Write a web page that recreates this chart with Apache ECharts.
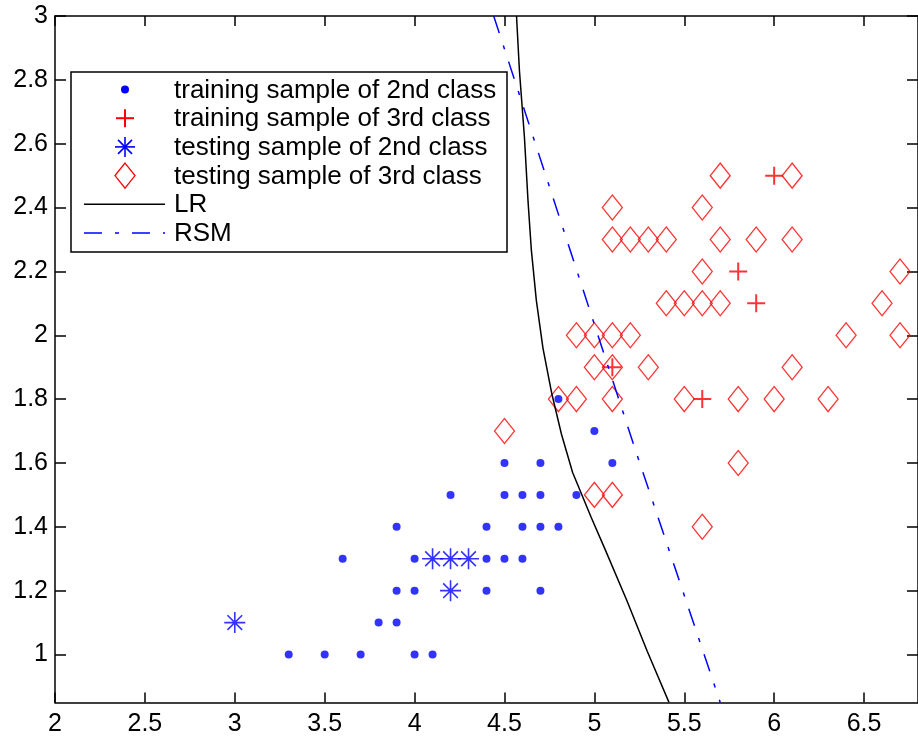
<!DOCTYPE html>
<html>
<head>
<meta charset="utf-8">
<script src="https://cdn.jsdelivr.net/npm/echarts@6/dist/echarts.min.js"></script>
<style>
  html, body { margin: 0; padding: 0; background: #fff; }
  #chart { width: 918px; height: 742px; }
</style>
</head>
<body>
<div id="chart"></div>
<script>
// training samples of 2nd class (dots)
const train2X = [3.3, 3.5, 3.7, 4.0, 4.1, 3.8, 3.9, 3.9, 4.0, 4.4, 4.7, 3.6, 4.0, 4.4, 4.5, 4.6,
  3.9, 4.4, 4.6, 4.7, 4.8, 4.2, 4.5, 4.6, 4.7, 4.9, 4.5, 4.7, 5.1, 5.0, 4.8]
const train2Y = [1.0, 1.0, 1.0, 1.0, 1.0, 1.1, 1.1, 1.2, 1.2, 1.2, 1.2, 1.3, 1.3, 1.3, 1.3, 1.3,
  1.4, 1.4, 1.4, 1.4, 1.4, 1.5, 1.5, 1.5, 1.5, 1.5, 1.6, 1.6, 1.6, 1.7, 1.8]

// training samples of 3rd class (plus)
const train3X = [6.0, 5.8, 5.9, 5.1, 5.6]
const train3Y = [2.5, 2.2, 2.1, 1.9, 1.8]

// testing samples of 2nd class (asterisk)
const test2X = [3.0, 4.2, 4.1, 4.2, 4.3]
const test2Y = [1.1, 1.2, 1.3, 1.3, 1.3]

// testing samples of 3rd class (diamond)
const test3X = [5.7, 6.1, 5.1, 5.6, 5.1, 5.2, 5.3, 5.4, 5.7, 5.9, 6.1, 5.6, 6.7,
  5.4, 5.5, 5.6, 5.7, 6.6, 4.9, 5.0, 5.1, 5.2, 6.4, 6.7, 5.0, 5.1, 5.3, 6.1,
  4.8, 4.9, 5.1, 5.5, 5.8, 6.0, 6.3, 4.5, 5.8, 5.0, 5.1, 5.6]
const test3Y = [2.5, 2.5, 2.4, 2.4, 2.3, 2.3, 2.3, 2.3, 2.3, 2.3, 2.3, 2.2, 2.2,
  2.1, 2.1, 2.1, 2.1, 2.1, 2.0, 2.0, 2.0, 2.0, 2.0, 2.0, 1.9, 1.9, 1.9, 1.9,
  1.8, 1.8, 1.8, 1.8, 1.8, 1.8, 1.8, 1.7, 1.6, 1.5, 1.5, 1.4]

// decision boundaries
const lrX = [4.567, 4.583, 4.611, 4.631, 4.649, 4.677, 4.714, 4.762, 4.817, 4.879, 4.982, 5.059, 5.18, 5.294, 5.415]
const lrY = [3.0, 2.83, 2.62, 2.42, 2.27, 2.11, 1.96, 1.82, 1.69, 1.57, 1.43, 1.33, 1.17, 1.01, 0.85]
const rsmX = [4.44, 5.228, 5.70]
const rsmY = [3.0, 1.641, 0.85]

const xTicks = [2, 2.5, 3, 3.5, 4, 4.5, 5, 5.5, 6, 6.5]
const yTicks = [1, 1.2, 1.4, 1.6, 1.8, 2, 2.2, 2.4, 2.6, 2.8, 3]

const legendLabels = [
  'training sample of 2nd class',
  'training sample of 3rd class',
  'testing sample of 2nd class',
  'testing sample of 3rd class',
  'LR',
  'RSM'
]

const FONT = '"Liberation Sans", Arial, sans-serif'
const BLUE = '#0000ff'
const RED = '#ff0000'
const PLUS = 'path://M0,9L18,9M9,0L9,18'
const STAR = 'path://M0,10L20,10M10,0L10,20M3,3L17,17M17,3L3,17'
const RSM_DASH = [18, 13, 4, 13]

function pairs (xs, ys) {
  return xs.map((x, i) => [x, ys[i]])
}

function makeAxis (dim, position, showLabel) {
  const ticks = dim === 'x' ? xTicks : yTicks
  return {
    type: 'value',
    position,
    min: dim === 'x' ? 2 : 0.85,
    max: dim === 'x' ? 6.8 : 3,
    axisLine: { show: true, onZero: false, lineStyle: { color: '#000', width: 1.5 } },
    axisTick: {
      show: true,
      inside: true,
      length: dim === 'x' ? 10 : 11,
      customValues: ticks,
      lineStyle: { color: '#000', width: 1.5 }
    },
    axisLabel: {
      show: showLabel,
      customValues: ticks,
      margin: dim === 'x' ? 9 : 7,
      color: '#000',
      fontFamily: FONT,
      fontSize: 25
    },
    splitLine: { show: false }
  }
}

// legend box drawn with graphic elements
const LEG = { left: 71, top: 72, width: 436, height: 180, rowTop: 89.5, rowStep: 28.7, iconX: 125, textX: 174 }
function legendGraphic () {
  const els = [{
    type: 'rect',
    shape: { x: LEG.left, y: LEG.top, width: LEG.width, height: LEG.height },
    style: { fill: '#fff', stroke: '#000', lineWidth: 1.5 },
    z: 100
  }]
  const rowY = (i) => LEG.rowTop + i * LEG.rowStep
  const cx = LEG.iconX
  // dot
  els.push({ type: 'circle', shape: { cx, cy: rowY(0), r: 4 }, style: { fill: BLUE }, z: 101 })
  // plus
  els.push({ type: 'line', shape: { x1: cx - 9, y1: rowY(1), x2: cx + 9, y2: rowY(1) }, style: { stroke: RED, lineWidth: 2 }, z: 101 })
  els.push({ type: 'line', shape: { x1: cx, y1: rowY(1) - 9, x2: cx, y2: rowY(1) + 9 }, style: { stroke: RED, lineWidth: 2 }, z: 101 })
  // asterisk
  const sy = rowY(2)
  els.push({ type: 'line', shape: { x1: cx - 10, y1: sy, x2: cx + 10, y2: sy }, style: { stroke: BLUE, lineWidth: 1.6 }, z: 101 })
  els.push({ type: 'line', shape: { x1: cx, y1: sy - 10, x2: cx, y2: sy + 10 }, style: { stroke: BLUE, lineWidth: 1.6 }, z: 101 })
  els.push({ type: 'line', shape: { x1: cx - 7, y1: sy - 7, x2: cx + 7, y2: sy + 7 }, style: { stroke: BLUE, lineWidth: 1.6 }, z: 101 })
  els.push({ type: 'line', shape: { x1: cx + 7, y1: sy - 7, x2: cx - 7, y2: sy + 7 }, style: { stroke: BLUE, lineWidth: 1.6 }, z: 101 })
  // diamond
  const dy = rowY(3)
  els.push({
    type: 'polygon',
    shape: { points: [[cx, dy - 12.5], [cx + 10, dy], [cx, dy + 12.5], [cx - 10, dy]] },
    style: { fill: 'none', stroke: RED, lineWidth: 1.3 },
    z: 101
  })
  // LR line
  els.push({ type: 'line', shape: { x1: 84, y1: rowY(4), x2: 165, y2: rowY(4) }, style: { stroke: '#000', lineWidth: 1.5 }, z: 101 })
  // RSM line
  els.push({ type: 'line', shape: { x1: 84, y1: rowY(5), x2: 165, y2: rowY(5) }, style: { stroke: BLUE, lineWidth: 1.5, lineDash: RSM_DASH }, z: 101 })
  legendLabels.forEach((label, i) => {
    els.push({
      type: 'text',
      style: {
        x: LEG.textX,
        y: rowY(i) + 1,
        text: label,
        fill: '#000',
        font: '26px ' + FONT,
        textVerticalAlign: 'middle',
        textAlign: 'left'
      },
      z: 101
    })
  })
  return els
}

const chart = echarts.init(document.getElementById('chart'), null, { renderer: 'canvas' })
chart.setOption({
  animation: false,
  backgroundColor: '#fff',
  grid: { left: 55, top: 16, width: 871.2, height: 686.4, containLabel: false },
  xAxis: [makeAxis('x', 'bottom', true), makeAxis('x', 'top', false)],
  yAxis: [makeAxis('y', 'left', true), makeAxis('y', 'right', false)],
  series: [
    {
      name: legendLabels[0],
      type: 'scatter',
      symbol: 'circle',
      symbolSize: 8,
      itemStyle: { color: BLUE },
      data: pairs(train2X, train2Y),
      silent: true
    },
    {
      name: legendLabels[1],
      type: 'scatter',
      symbol: PLUS,
      symbolSize: 18,
      itemStyle: { color: RED, borderColor: RED, borderWidth: 2 },
      data: pairs(train3X, train3Y),
      silent: true
    },
    {
      name: legendLabels[2],
      type: 'scatter',
      symbol: STAR,
      symbolSize: 21,
      itemStyle: { color: BLUE, borderColor: BLUE, borderWidth: 1.6 },
      data: pairs(test2X, test2Y),
      silent: true
    },
    {
      name: legendLabels[3],
      type: 'scatter',
      symbol: 'diamond',
      symbolSize: [20, 25],
      itemStyle: { color: 'rgba(0,0,0,0)', borderColor: RED, borderWidth: 1.3 },
      data: pairs(test3X, test3Y),
      silent: true
    },
    {
      name: legendLabels[4],
      type: 'line',
      symbol: 'none',
      lineStyle: { color: '#000', width: 1.5 },
      data: pairs(lrX, lrY),
      silent: true
    },
    {
      name: legendLabels[5],
      type: 'line',
      symbol: 'none',
      lineStyle: { color: BLUE, width: 1.5, type: RSM_DASH },
      data: pairs(rsmX, rsmY),
      silent: true
    }
  ],
  graphic: legendGraphic()
})
</script>
</body>
</html>
